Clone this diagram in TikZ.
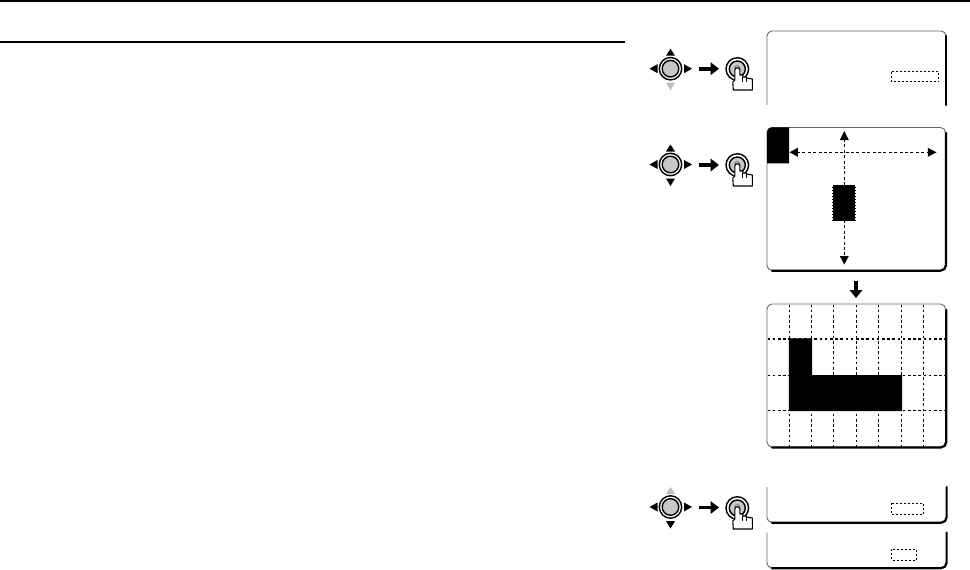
\documentclass[tikz,border=0pt]{standalone}
\usetikzlibrary{arrows.meta}
\definecolor{dial}{gray}{0.78}
\definecolor{faint}{gray}{0.75}
\tikzset{
  x=1pt,y=-1pt,
  rule/.style={line width=2pt,black},
  thinrim/.style={line width=0.9pt,black!60,rounded corners=5pt},
  thickrim/.style={line width=2.2pt,black,line cap=round,rounded corners=5.5pt},
  gridline/.style={line width=1.2pt,black,dash pattern=on 2.6pt off 2.6pt},
  fieldbox/.style={line width=1pt,black,dash pattern=on 2pt off 2pt},
  guideline/.style={line width=1.2pt,black,dash pattern=on 3pt off 2.4pt},
  blockarrow/.style={line width=3.8pt,black,-{Triangle[length=8.5pt,width=12.5pt]}},
  tri/.style={fill=black,draw=none},
  hand/.style={draw=black,fill=white,line width=1.1pt,line join=round},
}
% joystick: centre x, y, colour of up triangle, colour of down triangle
\newcommand{\joypad}[4]{%
  \fill[#3] (#1,#2-20) -- (#1+4.5,#2-13) -- (#1-4.5,#2-13) -- cycle;
  \fill[#4] (#1,#2+21.5) -- (#1+4.5,#2+14) -- (#1-4.5,#2+14) -- cycle;
  \fill[black] (#1-21,#2) -- (#1-13,#2-4.5) -- (#1-13,#2+4.5) -- cycle;
  \fill[black] (#1+21.5,#2) -- (#1+13.5,#2-4.5) -- (#1+13.5,#2+4.5) -- cycle;
  \draw[black,line width=1.4pt,fill=white] (#1,#2) circle (11.2);
  \draw[black,line width=1.4pt,fill=dial] (#1,#2) circle (8.3);
}
% push button with a pressing hand
\newcommand{\pushbtn}[2]{%
  \draw[black,line width=1.4pt,fill=white] (#1,#2) circle (11.3);
  \draw[black,line width=1.4pt,fill=dial] (#1,#2) circle (8);
  \draw[black!70,line width=0.5pt] (#1,#2-1) circle (2.4);
  \draw[hand] (#1-2.5,#2+1)
     .. controls (#1-2.5,#2-2) and (#1+2.5,#2-2) .. (#1+2.5,#2+1)
     -- (#1+2.5,#2+6) -- (#1+5.5,#2+6) -- (#1+5.5,#2+8) -- (#1+9,#2+8) -- (#1+9,#2+9)
     -- (#1+15,#2+10) -- (#1+15,#2+21) -- (#1-4,#2+21) -- (#1-4.5,#2+13) -- (#1-2.5,#2+11) -- cycle;
  \draw[black,line width=0.8pt] (#1+5.5,#2+8) -- (#1+5.5,#2+13);
  \draw[black,line width=0.8pt] (#1+9,#2+9) -- (#1+9,#2+13);
}
\begin{document}
\begin{tikzpicture}
\useasboundingbox (0,0) rectangle (970,570);

% page rules
\coordinate (topL) at (0,0.8); \coordinate (topR) at (970,0.8);
\coordinate (subL) at (0,42.3); \coordinate (subR) at (625,42.3);
\draw[rule] (topL) -- (topR);
\draw[rule] (subL) -- (subR);

% step 1
\joypad{670.5}{68.7}{black}{faint}
\pushbtn{737.3}{69}
\coordinate (a1s) at (699,68.7); \coordinate (a1e) at (719,68.7);
\draw[blockarrow] (a1s) -- (a1e);
\draw[thinrim] (767,105) -- (767,31) -- (946,31) -- (946,60);
\draw[thickrim] (946.3,36) -- (946.3,105);
\draw[fieldbox] (891.5,71.7) rectangle (938.7,81.7);

% step 2
\joypad{670.5}{164.5}{black}{black}
\pushbtn{737.3}{165}
\coordinate (a2s) at (699,165); \coordinate (a2e) at (719,165);
\draw[blockarrow] (a2s) -- (a2e);

% cursor screen
\draw[thinrim] (767,127.5) rectangle (945.5,270.3);
\draw[thickrim] (946,133) -- (946,270.7) -- (772,270.7);
\fill[black] (767,134) .. controls (767,129) and (769,127.3) .. (773,127.3) -- (789,127.3) -- (789,163.3) -- (767,163.3) -- cycle;
\coordinate (hL) at (797,152.3); \coordinate (hR) at (928,152.3);
\coordinate (vT) at (844.3,139); \coordinate (vB) at (844.3,257);
\draw[guideline] (hL) -- (hR);
\draw[guideline] (vT) -- (vB);
\fill[tri] (789.5,152.3) -- (797.8,147.8) -- (797.8,156.8) -- cycle;
\fill[tri] (936.5,152.3) -- (927.8,147.8) -- (927.8,156.8) -- cycle;
\fill[tri] (844.3,131) -- (839.8,140) -- (848.8,140) -- cycle;
\fill[tri] (844.3,264.5) -- (839.8,256) -- (848.8,256) -- cycle;
\fill[black] (832.2,185) rectangle (856,220.7);
\draw[line width=1pt,white,dash pattern=on 1.5pt off 1.5pt] (832.2,185) -- (832.2,220.7);
\draw[line width=1pt,white,dash pattern=on 1.5pt off 1.5pt] (855.7,185) -- (855.7,220.7);

\coordinate (a3s) at (856,281); \coordinate (a3e) at (856,298);
\draw[line width=3.8pt,black,-{Triangle[length=8pt,width=12.5pt]}] (a3s) -- (a3e);

% grid screen
\foreach \gx in {789.3,811.7,833.7,856.7,878.3,901.3,923.7}
  \draw[gridline] (\gx,304.5) -- (\gx,446.5);
\foreach \gy in {339,375.3,410.7}
  \draw[gridline] (767.5,\gy) -- (945,\gy);
\draw[thinrim] (767,304) rectangle (945.5,447);
\draw[thickrim] (946.3,310) -- (946.3,447.5) -- (772,447.5);
\fill[black] (788.8,338.4) -- (812,338.4) -- (812,375) -- (902,375) -- (902,411.2) -- (788.8,411.2) -- cycle;

% step 3
\joypad{670.5}{507}{faint}{black}
\pushbtn{737.3}{508}
\coordinate (a4s) at (699,507.5); \coordinate (a4e) at (719,507.5);
\draw[blockarrow] (a4s) -- (a4e);
\draw[thinrim] (767,487) -- (767,522.5) -- (800,522.5);
\draw[thickrim] (946.6,487) -- (946.6,522.7) -- (772,522.7);
\draw[fieldbox] (891.5,503.3) rectangle (923.3,514.7);
\draw[thinrim] (767,532.5) -- (767,568) -- (800,568);
\draw[thickrim] (946.6,532.5) -- (946.6,568.2) -- (772,568.2);
\draw[fieldbox] (891.5,549) rectangle (916,560);
\end{tikzpicture}
\end{document}
